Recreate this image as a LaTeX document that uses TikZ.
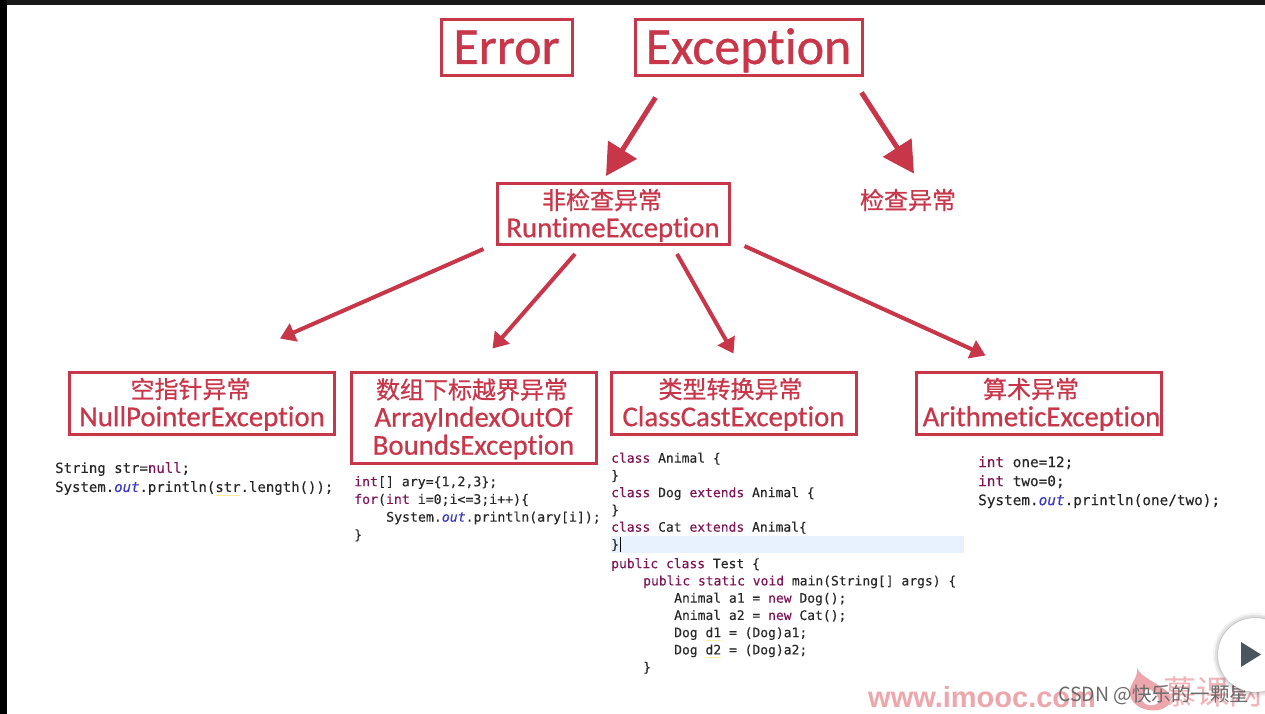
\documentclass[tikz,border=0pt]{standalone}
\usepackage{fontspec}
\usetikzlibrary{arrows.meta,calc}
\setmainfont{Carlito}[FakeBold=0.6,Ligatures=NoCommon]
\setmonofont{DejaVu Sans Mono}[FakeBold=0.15]
\newfontfamily\cjk{Noto Sans CJK SC}[FakeBold=0.6]
\newfontfamily\cjkplain{Noto Sans CJK SC}
\definecolor{exred}{HTML}{C8364A}
\definecolor{kwcol}{HTML}{7F1455}
\definecolor{outcol}{HTML}{3A3AC0}
\definecolor{codecol}{HTML}{262626}
\definecolor{wmpink}{HTML}{EDA6AC}
\definecolor{hilite}{HTML}{E8F2FE}
\definecolor{playcol}{HTML}{4A5560}
\newcommand{\kw}[1]{\textcolor{kwcol}{#1}}
\newcommand{\ot}[1]{\textcolor{outcol}{\textit{#1}}}
\newcommand{\zh}[2][0pt]{\rule{0pt}{23pt}{\cjk\fontsize{24}{28}\selectfont #2}\hspace*{#1}}
\tikzset{
  exbox/.style={draw=exred,line width=3pt,inner sep=0pt,align=center,text=exred,font=\fontsize{28.8}{28}\selectfont},
  bigbox/.style={exbox,font=\fontsize{52}{52}\selectfont,text height=36pt,text depth=4pt},
  arrbig/.style={draw=exred,fill=exred,line width=5pt,-{Triangle[length=31pt,width=33pt]}},
  arrsmall/.style={draw=exred,fill=exred,line width=4pt,-{Triangle[length=15pt,width=19pt]}},
  codeblock/.style={anchor=north west,inner sep=0pt,align=left,text=codecol},
  squiggle/.style={draw=yellow!70!orange,line width=0.8pt,opacity=.4}
}
\begin{document}
\begin{tikzpicture}[x=1pt,y=-1pt]
\useasboundingbox (0,0) rectangle (1265,714);
\fill[white] (0,0) rectangle (1265,714);
\fill[black!90] (0,0) rectangle (1265,5);
\fill[black] (0,0) rectangle (7,714);
% highlight
\fill[hilite] (611,536) rectangle (964,553);
% boxes
\node[bigbox,minimum width=131pt,minimum height=56pt] (err) at (506.5,48) {Error};
\node[bigbox,minimum width=227pt,minimum height=56pt] (exc) at (748.5,48) {Exception};
\node[exbox,minimum width=232pt,minimum height=61pt] (rt) at (613,214) {\zh[22pt]{非检查异常}\\RuntimeException};
\node[text=exred,inner sep=0pt] (chk) at (908,200) {{\cjk\fontsize{24}{28}\selectfont 检查异常}};
\node[exbox,minimum width=265pt,minimum height=62pt] (np) at (202,403) {\zh[23pt]{空指针异常}\\NullPointerException};
\node[exbox,minimum width=245pt,minimum height=91pt] (ai) at (473.5,417.5) {\zh[3pt]{数组下标越界异常}\\ArrayIndexOutOf\\BoundsException};
\node[exbox,minimum width=245pt,minimum height=62pt] (cc) at (733.5,403) {\zh[6pt]{类型转换异常}\\ClassCastException};
\node[exbox,minimum width=245pt,minimum height=62pt] (ar) at (1038.5,403) {\zh[15pt]{算术异常}\\\hspace*{6pt}ArithmeticException};
% connectors
\draw[arrbig] ([shift={(22,20)}]exc.south west) -- ([shift={(-7,-6)}]rt.north);
\draw[arrbig] ([shift={(-2,15)}]exc.south east) -- ([shift={(6,-15)}]chk.north);
\draw[arrsmall] ([shift={(-12,3)}]rt.south west) -- ([shift={(-56,-32)}]np.north east);
\draw[arrsmall] ([shift={(-38,8)}]rt.south) -- ([shift={(19,-22)}]ai.north);
\draw[arrsmall] ([shift={(64,8)}]rt.south) -- ([shift={(0,-17)}]cc.north);
\draw[arrsmall] ([shift={(14,0)}]rt.south east) -- ([shift={(-53,-15)}]ar.north);
% code
\node[codeblock,font=\ttfamily\fontsize{14}{19}\selectfont] (code1) at (55,462) {String str=\kw{null};\\System.\ot{out}.println(str.length());};
\node[codeblock,font=\ttfamily\fontsize{13.2}{17.7}\selectfont] (code2) at (354,476) {\kw{int}[] ary=\{1,2,3\};\\\kw{for}(\kw{int} i=0;i<=3;i++)\{\\\hspace*{32pt}System.\ot{out}.println(ary[i]);\\\}};
\node[codeblock,font=\ttfamily\fontsize{13}{17.25}\selectfont] (code3) at (611,452.5) {\kw{class} Animal \{\\\}\\\kw{class} Dog \kw{extends} Animal \{\\\}\\\kw{class} Cat \kw{extends} Animal\{\\\}\\[2pt]\kw{public} \kw{class} Test \{\\\hspace*{32pt}\kw{public} \kw{static} \kw{void} main(String[] args) \{\\\hspace*{63pt}Animal a1 = \kw{new} Dog();\\\hspace*{63pt}Animal a2 = \kw{new} Cat();\\\hspace*{63pt}Dog d1 = (Dog)a1;\\\hspace*{63pt}Dog d2 = (Dog)a2;\\\hspace*{32pt}\}};
\node[codeblock,font=\ttfamily\fontsize{14.35}{19}\selectfont] (code4) at (978,456) {\kw{int} one=12;\\\kw{int} two=0;\\System.\ot{out}.println(one/two);};
\draw[black,line width=0.8pt] (620,537) -- (620,552);
\draw[squiggle] (216,495) -- (240,495);
\draw[squiggle] (706,640) -- (721,640);
\draw[squiggle] (706,657) -- (721,657);
% watermark
\node[anchor=base west,inner sep=0pt,text=wmpink,font=\fontspec{Liberation Sans Bold}\fontsize{29}{29}\selectfont] (wm) at (868,707) {www.imooc.com};
\fill[wmpink] (1137,668) .. controls (1142,680) and (1172,688) .. (1171,699) .. controls (1170,708) and (1158,712) .. (1148,710) .. controls (1136,708) and (1126,698) .. (1131,686) .. controls (1133,681) and (1138,676) .. (1137,668) -- cycle;
\fill[white] (1147,688) .. controls (1156,692) and (1160,698) .. (1158,703) .. controls (1154,707) and (1144,706) .. (1142,700) .. controls (1141,695) and (1145,692) .. (1147,688) -- cycle;
\node[anchor=base west,inner sep=0pt,text=wmpink!85!white,font=\cjkplain\fontsize{33}{33}\selectfont] (wmz) at (1163,704) {慕课网};
\node[anchor=base west,inner sep=0pt,text=black!58,font=\cjkplain\fontsize{19.5}{20}\selectfont] (csdn) at (1058,701) {CSDN @快乐的一颗星};
% play button
\foreach \r/\o in {42/.05,40/.07,38/.1}{\fill[black,opacity=\o] (1255,655) circle (\r pt);}
\fill[white] (1255,655) circle (37pt);
\fill[playcol] (1241,642) -- (1261,654.5) -- (1241,667) -- cycle;
\end{tikzpicture}
\end{document}
